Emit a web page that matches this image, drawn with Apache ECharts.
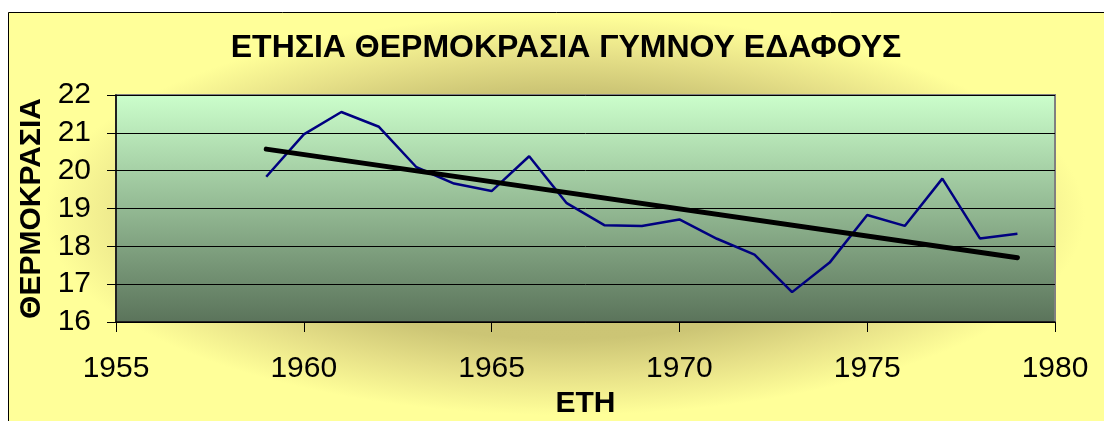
<!DOCTYPE html>
<html>
<head>
<meta charset="utf-8">
<script src="https://cdn.jsdelivr.net/npm/echarts@6/dist/echarts.min.js"></script>
<style>
    html, body {margin: 0; padding: 0; background: #fff;}
    #chart {width: 1104px; height: 421px;}
</style>
</head>
<body>
<div id="chart"></div>
<script>
    // δεδομένα όπως διαβάστηκαν από το διάγραμμα
    var years = [1959, 1960, 1961, 1962, 1963, 1964, 1965, 1966, 1967, 1968, 1969,
                 1970, 1971, 1972, 1973, 1974, 1975, 1976, 1977, 1978, 1979];
    var temps = [19.84, 20.96, 21.55, 21.16, 20.09, 19.66, 19.46, 20.38, 19.14, 18.56, 18.54,
                 18.71, 18.20, 17.78, 16.79, 17.57, 18.83, 18.54, 19.79, 18.21, 18.33];
    // γραμμή τάσης (άκρα)
    var trendYears = [1959, 1979];
    var trendTemps = [20.57, 17.70];

    var titleText = 'ΕΤΗΣΙΑ ΘΕΡΜΟΚΡΑΣΙΑ ΓΥΜΝΟΥ ΕΔΑΦΟΥΣ';
    var xName = 'ΕΤΗ';
    var yName = 'ΘΕΡΜΟΚΡΑΣΙΑ';

    var font = "'Liberation Sans', Arial, sans-serif";

    function pairs(xs, ys) {
        return xs.map(function (x, i) { return [x, ys[i]]; });
    }

    var myChart = echarts.init(document.getElementById('chart'), null, {renderer: 'canvas'});
    myChart.setOption({
        animation: false,
        backgroundColor: '#ffffff',
        graphic: [
            {
                type: 'rect', z: -20, silent: true,
                shape: {x: 8, y: 12, width: 1200, height: 500},
                style: {fill: '#FFFF99'}
            },
            {
                // σκούρα λάμψη γύρω από την περιοχή σχεδίασης
                type: 'rect', z: -19, silent: true,
                x: 45, y: 15, scaleX: 2.6, scaleY: 1,
                shape: {x: 0, y: 0, width: 400, height: 400},
                style: {
                    fill: {
                        type: 'radial', x: 0.5, y: 0.5, r: 0.5,
                        colorStops: [
                            {offset: 0, color: '#C9C171'},
                            {offset: 0.62, color: '#CCC575'},
                            {offset: 0.8, color: '#E6E088'},
                            {offset: 1, color: '#FFFF99'}
                        ]
                    }
                }
            },
            {
                type: 'rect', z: -18, silent: true,
                shape: {x: 8.5, y: 12.5, width: 1200, height: 500},
                style: {fill: null, stroke: '#000', lineWidth: 1}
            }
        ],
        title: {
            text: titleText,
            left: 561,
            top: 27,
            textAlign: 'center',
            textStyle: {fontSize: 32, fontWeight: 'bold', color: '#000', fontFamily: font}
        },
        grid: {
            left: 116, top: 95, right: 49, bottom: 99,
            containLabel: false,
            outerBoundsMode: 'none',
            show: true,
            backgroundColor: {
                type: 'linear', x: 0, y: 0, x2: 0, y2: 1,
                colorStops: [
                    {offset: 0, color: '#CCFFCC'},
                    {offset: 1, color: '#5A735A'}
                ]
            },
            borderColor: '#808080',
            borderWidth: 2
        },
        xAxis: {
            type: 'value',
            min: 1955, max: 1980, interval: 5,
            name: xName,
            nameLocation: 'middle',
            nameGap: 62,
            nameTextStyle: {fontSize: 30, fontWeight: 'bold', color: '#000', fontFamily: font},
            axisLine: {show: true, onZero: false, lineStyle: {color: '#000', width: 1.5}},
            axisTick: {show: true, length: 10, lineStyle: {color: '#000'}},
            axisLabel: {margin: 32, fontSize: 30, color: '#000', fontFamily: font,
                formatter: function (v) { return String(v); }},
            splitLine: {show: false}
        },
        yAxis: {
            type: 'value',
            min: 16, max: 22, interval: 1,
            name: yName,
            nameLocation: 'middle',
            nameRotate: 90,
            nameGap: 67,
            nameTextStyle: {fontSize: 30, fontWeight: 'bold', color: '#000', fontFamily: font},
            axisLine: {show: true, lineStyle: {color: '#000', width: 1.5}},
            axisTick: {show: true, length: 9, lineStyle: {color: '#000'}},
            axisLabel: {margin: 25, fontSize: 30, color: '#000', fontFamily: font},
            splitLine: {show: true, lineStyle: {color: '#000', width: 1}}
        },
        series: [
            {
                name: 'Θερμοκρασία',
                type: 'line',
                data: pairs(years, temps),
                showSymbol: false,
                lineStyle: {color: '#000080', width: 2.5},
                z: 3
            },
            {
                name: 'Τάση',
                type: 'line',
                data: pairs(trendYears, trendTemps),
                showSymbol: false,
                lineStyle: {color: '#000', width: 5, cap: 'round'},
                z: 4
            }
        ]
    });
</script>
</body>
</html>
